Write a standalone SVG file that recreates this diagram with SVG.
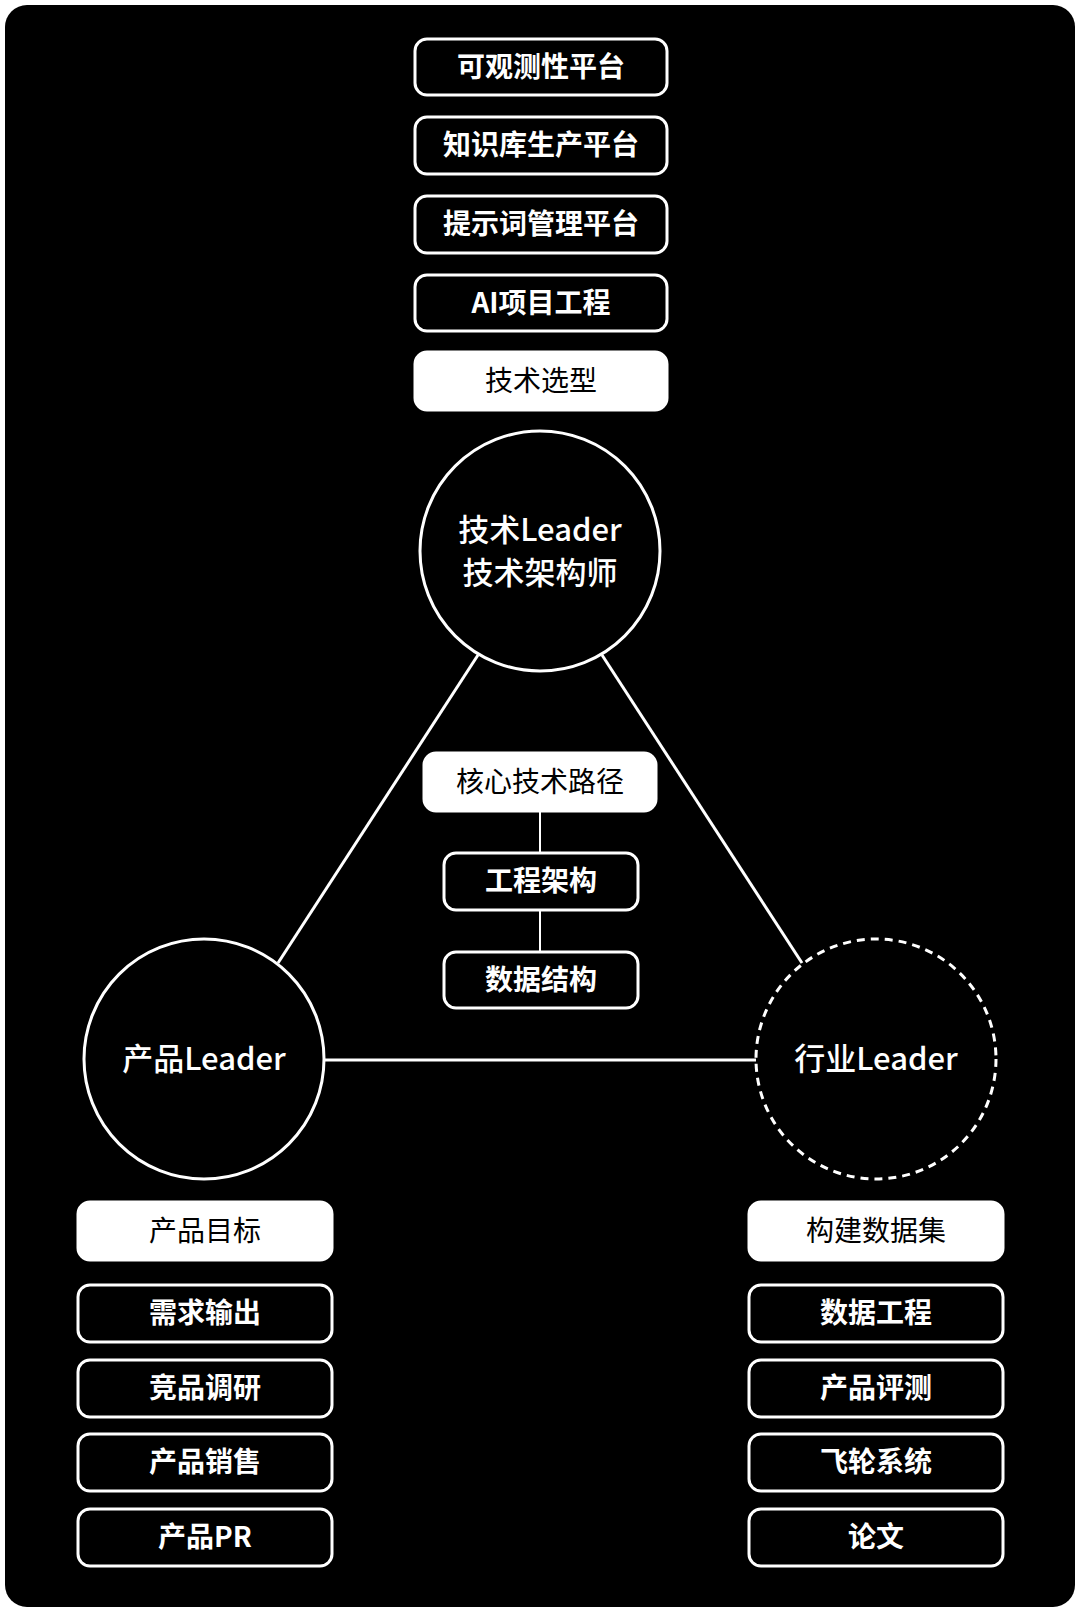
<svg xmlns="http://www.w3.org/2000/svg" width="1080" height="1612" viewBox="0 0 1080 1612">
  <style>
    .bg { fill: #000000; }
    .box { fill: #000000; stroke: #ffffff; stroke-width: 3; }
    .wbox { fill: #ffffff; stroke: #ffffff; stroke-width: 3; }
    .circ { fill: #000000; stroke: #ffffff; stroke-width: 3; }
    .dcirc { fill: #000000; stroke: #ffffff; stroke-width: 3; stroke-dasharray: 8 6; }
    .edge { stroke: #ffffff; stroke-width: 3; fill: none; }
    .thin { stroke: #ffffff; stroke-width: 2; fill: none; }
    text { font-family: "Noto Sans CJK SC", "Noto Sans", sans-serif; text-anchor: middle; dominant-baseline: central; }
    .bt { fill: #ffffff; font-size: 28px; font-weight: 700; }
    .wt { fill: #000000; font-size: 28px; font-weight: 400; }
    .ct { fill: #ffffff; font-size: 31px; font-weight: 500; }
  </style>
  <rect x="0" y="0" width="1080" height="1612" fill="#ffffff"/>
  <rect class="bg" x="5" y="5" width="1070" height="1602" rx="22" ry="22"/>

  <g id="connectors">
    <line class="edge" x1="478" y1="655" x2="278" y2="963"/>
    <line class="edge" x1="602" y1="655" x2="802" y2="963"/>
    <line class="edge" x1="324" y1="1060" x2="756" y2="1060"/>
    <line class="thin" x1="540" y1="812" x2="540" y2="853"/>
    <line class="thin" x1="540" y1="911" x2="540" y2="952"/>
  </g>

  <g id="node-observability">
    <rect class="box" x="415" y="39" width="252" height="56" rx="12"/>
    <text class="bt" x="541" y="64.5">可观测性平台</text>
  </g>
  <g id="node-knowledge">
    <rect class="box" x="415" y="117" width="252" height="57" rx="12"/>
    <text class="bt" x="541" y="143">知识库生产平台</text>
  </g>
  <g id="node-prompt">
    <rect class="box" x="415" y="196" width="252" height="57" rx="12"/>
    <text class="bt" x="541" y="222">提示词管理平台</text>
  </g>
  <g id="node-ai-project">
    <rect class="box" x="415" y="275" width="252" height="56" rx="12"/>
    <text class="bt" x="541" y="300.5">AI项目工程</text>
  </g>
  <g id="node-tech-select">
    <rect class="wbox" x="415" y="352" width="252" height="58" rx="12"/>
    <text class="wt" x="541" y="378.5">技术选型</text>
  </g>

  <g id="node-tech-leader">
    <circle class="circ" cx="540" cy="551" r="120"/>
    <text class="ct" x="540" y="527">技术Leader</text>
    <text class="ct" x="540" y="570">技术架构师</text>
  </g>

  <g id="node-core-path">
    <rect class="wbox" x="424" y="753" width="232" height="58" rx="12"/>
    <text class="wt" x="540" y="779.5">核心技术路径</text>
  </g>
  <g id="node-eng-arch">
    <rect class="box" x="444" y="853" width="194" height="57" rx="12"/>
    <text class="bt" x="541" y="879">工程架构</text>
  </g>
  <g id="node-data-struct">
    <rect class="box" x="444" y="952" width="194" height="56" rx="12"/>
    <text class="bt" x="541" y="977.5">数据结构</text>
  </g>

  <g id="node-product-leader">
    <circle class="circ" cx="204" cy="1059" r="120"/>
    <text class="ct" x="204" y="1056">产品Leader</text>
  </g>
  <g id="node-industry-leader">
    <circle class="dcirc" cx="876" cy="1059" r="120"/>
    <text class="ct" x="876" y="1056">行业Leader</text>
  </g>

  <g id="node-product-goal">
    <rect class="wbox" x="78" y="1202" width="254" height="58" rx="12"/>
    <text class="wt" x="205" y="1228.5">产品目标</text>
  </g>
  <g id="node-req">
    <rect class="box" x="78" y="1285" width="254" height="57" rx="12"/>
    <text class="bt" x="205" y="1311">需求输出</text>
  </g>
  <g id="node-compete">
    <rect class="box" x="78" y="1360" width="254" height="57" rx="12"/>
    <text class="bt" x="205" y="1386">竞品调研</text>
  </g>
  <g id="node-sales">
    <rect class="box" x="78" y="1434" width="254" height="57" rx="12"/>
    <text class="bt" x="205" y="1460">产品销售</text>
  </g>
  <g id="node-pr">
    <rect class="box" x="78" y="1509" width="254" height="57" rx="12"/>
    <text class="bt" x="205" y="1535">产品PR</text>
  </g>

  <g id="node-dataset">
    <rect class="wbox" x="749" y="1202" width="254" height="58" rx="12"/>
    <text class="wt" x="876" y="1228.5">构建数据集</text>
  </g>
  <g id="node-data-eng">
    <rect class="box" x="749" y="1285" width="254" height="57" rx="12"/>
    <text class="bt" x="876" y="1311">数据工程</text>
  </g>
  <g id="node-eval">
    <rect class="box" x="749" y="1360" width="254" height="57" rx="12"/>
    <text class="bt" x="876" y="1386">产品评测</text>
  </g>
  <g id="node-flywheel">
    <rect class="box" x="749" y="1434" width="254" height="57" rx="12"/>
    <text class="bt" x="876" y="1460">飞轮系统</text>
  </g>
  <g id="node-paper">
    <rect class="box" x="749" y="1509" width="254" height="57" rx="12"/>
    <text class="bt" x="876" y="1535">论文</text>
  </g>
</svg>
